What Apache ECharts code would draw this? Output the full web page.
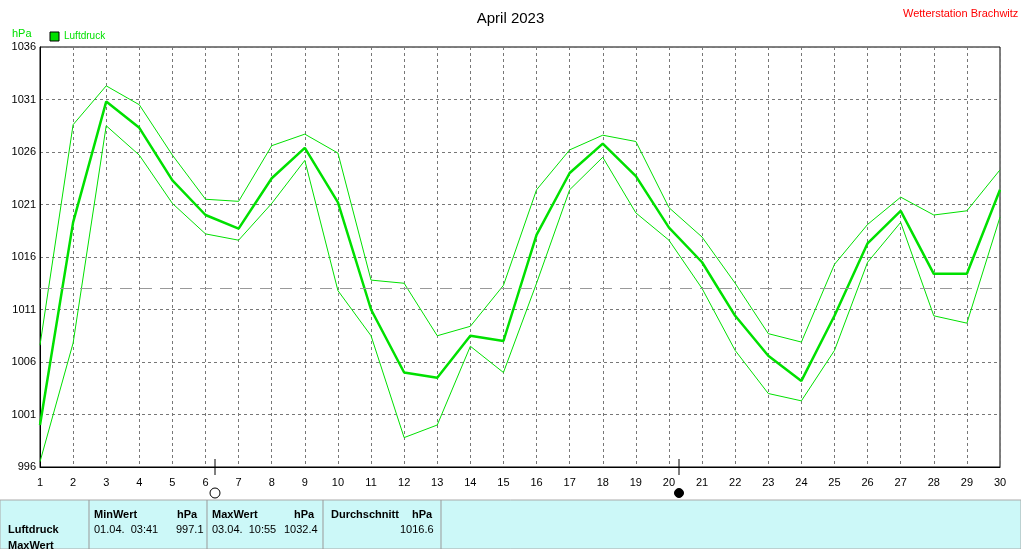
<!DOCTYPE html>
<html style="height: 100%">
<head>
  <meta charset="UTF-8" />
  <title>April 2023</title>
  <script src="https://cdn.jsdelivr.net/npm/echarts@6/dist/echarts.min.js"></script>
  <style>
    body { margin: 0; background: #fff; font-family: 'Liberation Sans', Arial, sans-serif; }
    #main { width: 1021px; height: 549px; }
  </style>
</head>
<body>
  <div id="main"></div>
  <script>
    const days = [];
    for (let d = 1; d <= 30; d++) days.push(d);
    const meanValues = [1000.0, 1019.3, 1030.8, 1028.3, 1023.3, 1020.0, 1018.7, 1023.5, 1026.4, 1021.2,
                        1011.0, 1005.0, 1004.5, 1008.5, 1008.0, 1018.1, 1024.0, 1026.8, 1023.7, 1018.8,
                        1015.5, 1010.4, 1006.6, 1004.2, 1010.4, 1017.3, 1020.4, 1014.4, 1014.4, 1022.4];
    const maxValues = [1007.6, 1028.6, 1032.3, 1030.5, 1025.7, 1021.5, 1021.3, 1026.6, 1027.7, 1025.9,
                       1013.8, 1013.5, 1008.5, 1009.4, 1013.3, 1022.4, 1026.2, 1027.6, 1027.0, 1020.7,
                       1017.9, 1013.5, 1008.7, 1007.9, 1015.3, 1019.1, 1021.7, 1020.0, 1020.4, 1024.3];
    const minValues = [996.5, 1007.8, 1028.5, 1025.7, 1021.1, 1018.2, 1017.6, 1021.1, 1025.2, 1012.8,
                       1008.5, 998.8, 1000.0, 1007.5, 1005.0, 1013.5, 1022.4, 1025.5, 1020.2, 1017.6,
                       1013.0, 1007.1, 1003.0, 1002.3, 1007.1, 1015.5, 1019.3, 1010.4, 1009.7, 1019.8];
    const refLine = 1013.0;
    const green = '#00e000';

    const pairs = arr => arr.map((v, i) => [days[i], v]);
    const chart = echarts.init(document.getElementById('main'));
    const txt = (x, y, s, opt) => ({ type: 'text', left: x, top: y,
      style: Object.assign({ text: s, fill: '#000', font: '11px "Liberation Sans", Arial' }, opt || {}) });

    chart.setOption({
      animation: false,
      title: { text: 'April 2023', left: 'center', top: 6,
        textStyle: { fontSize: 15, fontWeight: 'normal', color: '#000' } },
      grid: { left: 40, right: 21, top: 47, bottom: 82 },
      xAxis: {
        type: 'value', min: 1, max: 30, interval: 1,
        axisLine: { show: true, lineStyle: { color: '#000' } },
        axisTick: { show: false },
        axisLabel: { color: '#000', fontSize: 11, margin: 10 },
        splitLine: { show: true, lineStyle: { color: '#777', type: [3, 3] } }
      },
      yAxis: {
        type: 'value', min: 996, max: 1036, interval: 5,
        axisLine: { show: true, lineStyle: { color: '#000' } },
        axisTick: { show: false },
        axisLabel: { color: '#000', fontSize: 11, margin: 4, formatter: v => String(v) },
        splitLine: { show: true, lineStyle: { color: '#777', type: [3, 3] } }
      },
      series: [
        { type: 'line', data: pairs(maxValues), symbol: 'none', lineStyle: { color: green, width: 1 } },
        { type: 'line', data: pairs(minValues), symbol: 'none', lineStyle: { color: green, width: 1 } },
        { type: 'line', data: pairs(meanValues), symbol: 'none', lineStyle: { color: green, width: 2.5 },
          markLine: { symbol: 'none', silent: true, label: { show: false },
            lineStyle: { color: '#999', type: [12, 8], width: 1 }, data: [{ yAxis: refLine }] } }
      ],
      graphic: [
        { type: 'rect', shape: { x: 40, y: 47, width: 960, height: 420 }, style: { fill: 'none', stroke: '#000', lineWidth: 1 } },
        txt(12, 28, 'hPa', { fill: green }),
        { type: 'rect', shape: { x: 50, y: 32, width: 9, height: 9 }, style: { fill: green, stroke: '#000', lineWidth: 1 } },
        txt(64, 31, 'Luftdruck', { fill: green, font: '10px "Liberation Sans", Arial' }),
        txt(903, 8, 'Wetterstation Brachwitz', { fill: '#ff0000' }),
        { type: 'line', shape: { x1: 215, y1: 459, x2: 215, y2: 475 }, style: { stroke: '#000' } },
        { type: 'circle', shape: { cx: 215, cy: 493, r: 5 }, style: { fill: '#fff', stroke: '#000', lineWidth: 1 } },
        { type: 'line', shape: { x1: 679, y1: 459, x2: 679, y2: 475 }, style: { stroke: '#000' } },
        { type: 'circle', shape: { cx: 679, cy: 493, r: 4.5 }, style: { fill: '#000', stroke: '#000' } },
        { type: 'rect', shape: { x: 0, y: 500, width: 1021, height: 49 }, style: { fill: '#ccf8f8', stroke: '#aaa' }, z: -1 },
        { type: 'line', shape: { x1: 89, y1: 500, x2: 89, y2: 549 }, style: { stroke: '#999' } },
        { type: 'line', shape: { x1: 207, y1: 500, x2: 207, y2: 549 }, style: { stroke: '#999' } },
        { type: 'line', shape: { x1: 323, y1: 500, x2: 323, y2: 549 }, style: { stroke: '#999' } },
        { type: 'line', shape: { x1: 441, y1: 500, x2: 441, y2: 549 }, style: { stroke: '#999' } },
        txt(8, 524, 'Luftdruck', { font: 'bold 11px "Liberation Sans", Arial' }),
        txt(8, 540, 'MaxWert', { font: 'bold 11px "Liberation Sans", Arial' }),
        txt(94, 509, 'MinWert', { font: 'bold 11px "Liberation Sans", Arial' }),
        txt(177, 509, 'hPa', { font: 'bold 11px "Liberation Sans", Arial' }),
        txt(94, 524, '01.04.  03:41'),
        txt(176, 524, '997.1'),
        txt(212, 509, 'MaxWert', { font: 'bold 11px "Liberation Sans", Arial' }),
        txt(294, 509, 'hPa', { font: 'bold 11px "Liberation Sans", Arial' }),
        txt(212, 524, '03.04.  10:55'),
        txt(284, 524, '1032.4'),
        txt(331, 509, 'Durchschnitt', { font: 'bold 11px "Liberation Sans", Arial' }),
        txt(412, 509, 'hPa', { font: 'bold 11px "Liberation Sans", Arial' }),
        txt(400, 524, '1016.6')
      ]
    });
  </script>
</body>
</html>
